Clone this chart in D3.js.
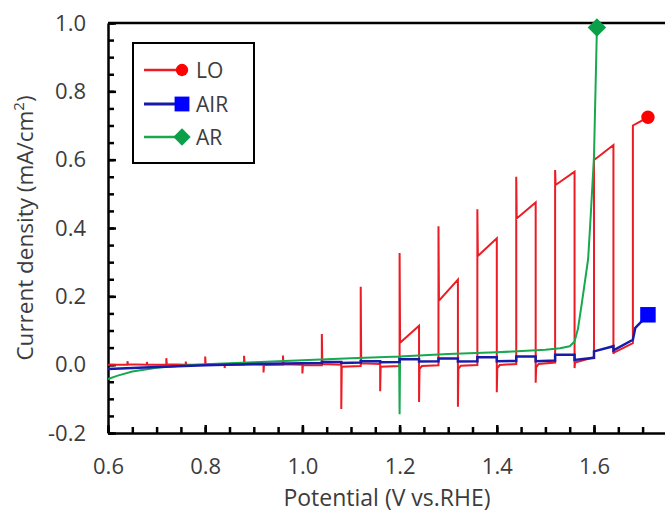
<!DOCTYPE html>
<html>
<head>
<meta charset="utf-8">
<script src="https://cdn.jsdelivr.net/npm/d3@7"></script>
<style>
  body { margin: 0; background: #fff; }
  svg { display: block; font-family: "Open Sans", sans-serif; }
</style>
</head>
<body>
<div id="chart"></div>
<script>
// series: [potential (V vs RHE), current density (mA/cm2)]
const loPoints = [
  [0.600, 0.000],
  [0.640, 0.000], [0.640, 0.010], [0.641, 0.001],
  [0.680, 0.000], [0.680, 0.008], [0.681, 0.000],
  [0.720, 0.000], [0.720, 0.019], [0.721, 0.001],
  [0.760, 0.000], [0.760, 0.009], [0.761, 0.000],
  [0.800, 0.000], [0.800, 0.024], [0.801, 0.001],
  [0.840, 0.000], [0.840, -0.010], [0.841, 0.000],
  [0.880, 0.000], [0.880, 0.026], [0.881, 0.001],
  [0.920, 0.000], [0.920, -0.023], [0.921, -0.001],
  [0.960, 0.000], [0.960, 0.027], [0.961, 0.001],
  [1.000, 0.000], [1.000, -0.026], [1.001, -0.002],
  [1.040, -0.002], [1.040, 0.090], [1.041, 0.002],
  [1.080, 0.000], [1.080, -0.130], [1.081, -0.006],
  [1.120, -0.004], [1.120, 0.228], [1.121, 0.004],
  [1.160, 0.002], [1.160, -0.078], [1.161, -0.006],
  [1.200, -0.004], [1.200, 0.327], [1.201, 0.064],
  [1.240, 0.114], [1.240, -0.109], [1.241, -0.012], [1.246, -0.004],
  [1.280, -0.002], [1.280, 0.405], [1.281, 0.187],
  [1.320, 0.249], [1.320, -0.123], [1.321, -0.012], [1.326, -0.003],
  [1.360, -0.001], [1.360, 0.455], [1.361, 0.318],
  [1.400, 0.370], [1.400, -0.081], [1.401, -0.010], [1.406, -0.001],
  [1.440, 0.002], [1.440, 0.550], [1.441, 0.428],
  [1.480, 0.475], [1.480, -0.053], [1.481, -0.008], [1.486, 0.002],
  [1.520, 0.006], [1.520, 0.570], [1.521, 0.526],
  [1.560, 0.565], [1.560, -0.010], [1.561, 0.006],
  [1.600, 0.022], [1.600, 0.610], [1.601, 0.600],
  [1.640, 0.643], [1.640, 0.032], [1.641, 0.035],
  [1.680, 0.063], [1.680, 0.700], [1.690, 0.708],
  [1.711, 0.724]
];

const airPoints = [
  [0.600, -0.013], [0.700, -0.007], [0.800, -0.002], [0.900, 0.002], [1.000, 0.004],
  [1.040, 0.005], [1.040, 0.008], [1.080, 0.008], [1.080, 0.005],
  [1.120, 0.006], [1.120, 0.010], [1.160, 0.010], [1.160, 0.007],
  [1.200, 0.008], [1.200, 0.016], [1.240, 0.016], [1.240, 0.009],
  [1.280, 0.010], [1.280, 0.018], [1.320, 0.018], [1.320, 0.009],
  [1.360, 0.010], [1.360, 0.022], [1.400, 0.022], [1.400, 0.010],
  [1.440, 0.011], [1.440, 0.024], [1.480, 0.024], [1.480, 0.010],
  [1.520, 0.012], [1.520, 0.029], [1.560, 0.029], [1.560, 0.014],
  [1.600, 0.020], [1.600, 0.039], [1.640, 0.054], [1.640, 0.042],
  [1.680, 0.073], [1.685, 0.108], [1.711, 0.146]
];

const arPoints = [
  [0.600, -0.042], [0.620, -0.032], [0.650, -0.020], [0.700, -0.009], [0.750, -0.003],
  [0.800, 0.001], [0.900, 0.007], [1.000, 0.013], [1.100, 0.019], [1.199, 0.024],
  [1.200, -0.145], [1.201, 0.024], [1.300, 0.031], [1.400, 0.036], [1.500, 0.044],
  [1.530, 0.048], [1.550, 0.054], [1.560, 0.068], [1.567, 0.105], [1.575, 0.180],
  [1.582, 0.250], [1.588, 0.310], [1.593, 0.430], [1.600, 0.610], [1.606, 0.987]
];

const seriesNames = ["LO", "AIR", "AR"];
const xTicks = [0.6, 0.8, 1.0, 1.2, 1.4, 1.6];
const yTicks = [-0.2, 0.0, 0.2, 0.4, 0.6, 0.8, 1.0];

const W = 665, H = 515;
const plotLeft = 108, plotTop = 23, plotBottom = 433;

const x = d3.scaleLinear().domain([0.6, 1.8]).range([plotLeft, plotLeft + 12 * 48.6]);
const y = d3.scaleLinear().domain([-0.2, 1.0]).range([plotBottom, plotTop]);

const svg = d3.select("#chart").append("svg")
  .attr("width", W)
  .attr("height", H);

const textColor = "#3c3c3c";

// minor ticks every 0.05
const xMinor = d3.range(0.6, 1.8001, 0.05).map(v => +v.toFixed(2));
const yMinor = d3.range(-0.2, 1.0001, 0.05).map(v => +v.toFixed(2));

svg.append("g")
  .attr("transform", `translate(0,${plotBottom})`)
  .call(d3.axisBottom(x).tickValues(xMinor).tickSize(-6).tickFormat(""))
  .call(g => g.select(".domain").remove())
  .call(g => g.selectAll("line").attr("stroke", "#000").attr("stroke-width", 2.5));

svg.append("g")
  .attr("transform", `translate(${plotLeft},0)`)
  .call(d3.axisLeft(y).tickValues(yMinor).tickSize(-6).tickFormat(""))
  .call(g => g.select(".domain").remove())
  .call(g => g.selectAll("line").attr("stroke", "#000").attr("stroke-width", 2.5));

// major axes
const xAxis = svg.append("g")
  .attr("transform", `translate(0,${plotBottom})`)
  .call(d3.axisBottom(x).tickValues(xTicks).tickSize(-8).tickSizeOuter(0)
    .tickPadding(25).tickFormat(d => d.toFixed(1)));

const yAxis = svg.append("g")
  .attr("transform", `translate(${plotLeft},0)`)
  .call(d3.axisLeft(y).tickValues(yTicks).tickSize(-8).tickSizeOuter(0)
    .tickPadding(22).tickFormat(d => d.toFixed(1)));

[xAxis, yAxis].forEach(g => {
  g.select(".domain").attr("stroke", "#000").attr("stroke-width", 2.5);
  g.selectAll(".tick line").attr("stroke", "#000").attr("stroke-width", 2.5);
  g.selectAll(".tick text")
    .attr("fill", textColor)
    .style("font-size", "22px")
    .style("font-family", "Open Sans, sans-serif");
});

// top frame line
svg.append("line")
  .attr("x1", plotLeft).attr("x2", W)
  .attr("y1", plotTop).attr("y2", plotTop)
  .attr("stroke", "#000")
  .attr("stroke-width", 2.5);

// curves
const line = d3.line()
  .x(d => x(d[0]))
  .y(d => y(d[1]));

const colors = { LO: "#ec1c24", AIR: "#1a1aa8", AR: "#19a84e" };
const markerColors = { LO: "#ff0000", AIR: "#0000ff", AR: "#0aa04a" };

svg.append("path")
  .datum(loPoints)
  .attr("fill", "none")
  .attr("stroke", colors.LO)
  .attr("stroke-width", 2)
  .attr("d", line);

svg.append("path")
  .datum(arPoints)
  .attr("fill", "none")
  .attr("stroke", colors.AR)
  .attr("stroke-width", 2)
  .attr("d", line);

svg.append("path")
  .datum(airPoints)
  .attr("fill", "none")
  .attr("stroke", colors.AIR)
  .attr("stroke-width", 2.5)
  .attr("d", line);

// end markers
const lastLo = loPoints[loPoints.length - 1];
const lastAir = airPoints[airPoints.length - 1];
const lastAr = arPoints[arPoints.length - 1];

svg.append("path")
  .attr("transform", `translate(${x(lastLo[0])},${y(lastLo[1])})`)
  .attr("d", d3.symbol(d3.symbolCircle, 140)())
  .attr("fill", markerColors.LO);

svg.append("path")
  .attr("transform", `translate(${x(lastAir[0])},${y(lastAir[1])})`)
  .attr("d", d3.symbol(d3.symbolSquare, 240)())
  .attr("fill", markerColors.AIR);

svg.append("path")
  .attr("transform", `translate(${x(lastAr[0])},${y(lastAr[1])}) rotate(45)`)
  .attr("d", d3.symbol(d3.symbolSquare, 170)())
  .attr("fill", markerColors.AR);

// legend
const legend = svg.append("g");
legend.append("rect")
  .attr("x", 133).attr("y", 43)
  .attr("width", 121).attr("height", 120)
  .attr("fill", "#fff")
  .attr("stroke", "#000")
  .attr("stroke-width", 2);

const legendY = [70, 104, 137];
const symbols = [
  d3.symbol(d3.symbolCircle, 120)(),
  d3.symbol(d3.symbolSquare, 220)(),
  d3.symbol(d3.symbolSquare, 150)()
];
seriesNames.forEach((name, i) => {
  const ly = legendY[i];
  legend.append("line")
    .attr("x1", 144).attr("x2", 182)
    .attr("y1", ly).attr("y2", ly)
    .attr("stroke", colors[name])
    .attr("stroke-width", name === "AIR" ? 3 : 2.5);
  legend.append("path")
    .attr("transform", `translate(182,${ly})${name === "AR" ? " rotate(45)" : ""}`)
    .attr("d", symbols[i])
    .attr("fill", markerColors[name]);
  legend.append("text")
    .attr("x", 196)
    .attr("y", ly)
    .attr("dy", "0.36em")
    .attr("fill", textColor)
    .style("font-size", "21px")
    .text(name);
});

// axis titles
svg.append("text")
  .attr("x", 387)
  .attr("y", 506)
  .attr("text-anchor", "middle")
  .attr("fill", textColor)
  .style("font-size", "23px")
  .text("Potential (V vs.RHE)");

const yTitle = svg.append("text")
  .attr("transform", "translate(33,228) rotate(-90)")
  .attr("text-anchor", "middle")
  .attr("fill", textColor)
  .style("font-size", "22.5px");
yTitle.append("tspan").text("Current density (mA/cm");
yTitle.append("tspan").attr("dy", -9).style("font-size", "15px").text("2");
yTitle.append("tspan").attr("dy", 9).text(")");
</script>
</body>
</html>
